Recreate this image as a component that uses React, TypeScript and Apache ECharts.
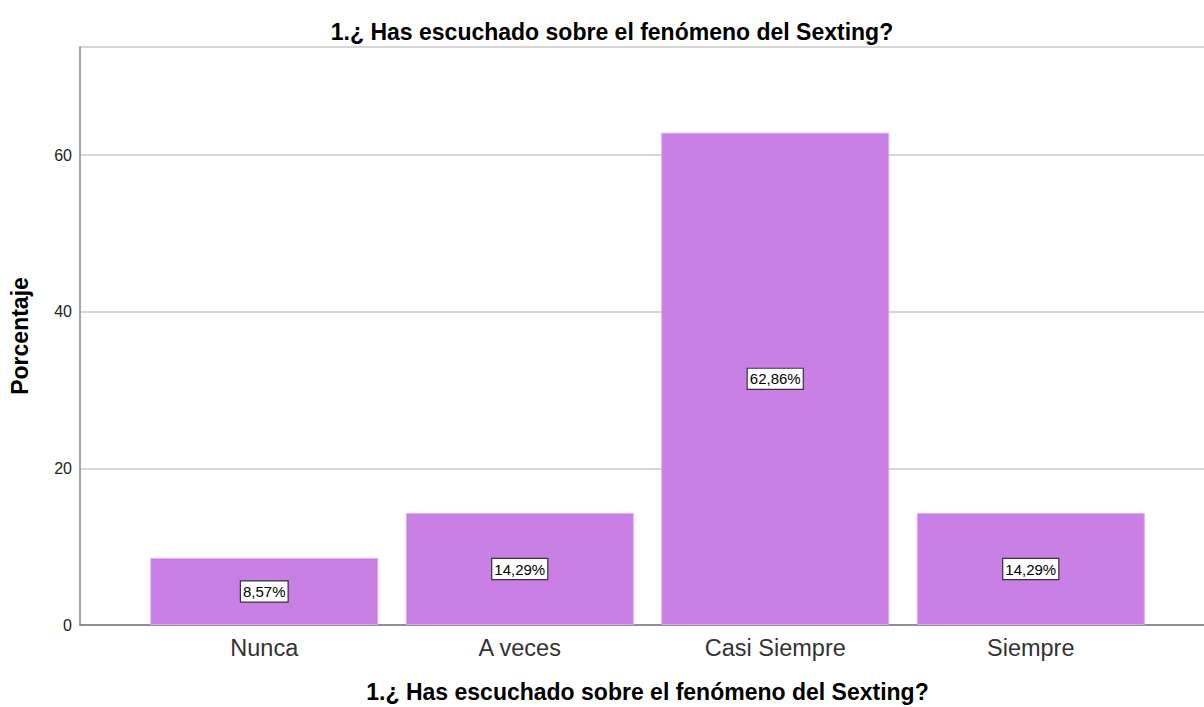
import React, { useEffect, useRef } from "react";
import * as echarts from "echarts";

const categories = ["Nunca", "A veces", "Casi Siempre", "Siempre"];
const percentages = [8.57, 14.29, 62.86, 14.29];
const yTicks = [0, 20, 40, 60];
const titleText = "1.¿ Has escuchado sobre el fenómeno del Sexting?";
const yName = "Porcentaje";

export default function App() {
  const ref = useRef<HTMLDivElement>(null);
  useEffect(() => {
    const chart = echarts.init(ref.current!, null, { renderer: "svg" });
    const yMax = 73.8;
    chart.setOption({
      animation: false,
      backgroundColor: "#ffffff",
      textStyle: { fontFamily: "Liberation Sans, Arial, sans-serif" },
      title: {
        text: titleText,
        left: 607,
        textAlign: "center",
        top: 15,
        textStyle: { fontSize: 23, fontWeight: "bold", color: "#000" },
      },
      grid: [
        { left: 80, right: -11, top: 47, bottom: 82, outerBoundsMode: "none", containLabel: false },
        { left: 136.5, width: 1022, top: 47, bottom: 82, outerBoundsMode: "none", containLabel: false },
      ],
      xAxis: [
        {
          gridIndex: 0,
          type: "category",
          data: categories,
          axisLine: { show: true, lineStyle: { color: "#777", width: 1.5 } },
          axisTick: { show: false },
          axisLabel: { show: false },
          name: titleText,
          nameLocation: "middle",
          nameGap: 55,
          nameTextStyle: { fontSize: 23, fontWeight: "bold", color: "#000" },
        },
        {
          gridIndex: 1,
          type: "category",
          data: categories,
          axisLine: { show: false },
          axisTick: { show: false },
          axisLabel: { fontSize: 23.5, color: "#333", margin: 11 },
        },
      ],
      yAxis: [
        {
          gridIndex: 0,
          type: "value",
          min: 0,
          max: yMax,
          interval: 20,
          axisLine: { show: true, lineStyle: { color: "#888", width: 1.5 } },
          axisTick: { show: false },
          splitLine: { show: true, lineStyle: { color: "#c8c8c8", width: 1.5 } },
          axisLabel: {
            fontSize: 16,
            color: "#222",
            margin: 8,
            showMaxLabel: false,
            formatter: (v: number) => (yTicks.includes(v) ? String(v) : ""),
          },
          name: yName,
          nameLocation: "middle",
          nameGap: 49,
          nameRotate: 90,
          nameTextStyle: { fontSize: 23, fontWeight: "bold", color: "#000" },
        },
        {
          gridIndex: 1,
          type: "value",
          min: 0,
          max: yMax,
          show: false,
        },
      ],
      series: [
        {
          type: "bar",
          xAxisIndex: 1,
          yAxisIndex: 1,
          data: percentages,
          barWidth: 228,
          itemStyle: { color: "#c980e5", borderColor: "#dcaaf0", borderWidth: 1 },
          label: {
            show: true,
            position: "inside",
            formatter: (p: any) => p.value.toFixed(2).replace(".", ",") + "%",
            fontSize: 15,
            color: "#000",
            backgroundColor: "#ffffff",
            borderColor: "#333",
            borderWidth: 1.2,
            padding: [3, 2, 2, 2],
          },
        },
      ],
    });
    return () => chart.dispose();
  }, []);
  return (
    <div
      ref={ref}
      style={{ position: "fixed", left: 0, top: 0, width: 1204, height: 707 }}
    />
  );
}
